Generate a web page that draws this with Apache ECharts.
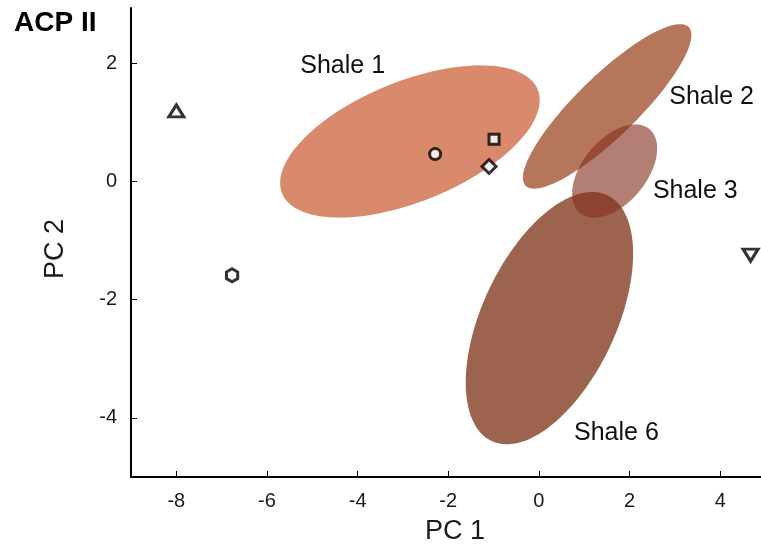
<!DOCTYPE html>
<html>
<head>
<meta charset="utf-8">
<script src="https://cdn.jsdelivr.net/npm/echarts@6/dist/echarts.min.js"></script>
<style>html,body{margin:0;padding:0;background:#fff;}#c{width:761px;height:550px;}</style>
</head>
<body>
<div id="c"></div>
<script>
// ---- data ----
const xTicks = [-8, -6, -4, -2, 0, 2, 4];
const yTicks = [-4, -2, 0, 2];
// ellipses: centre (cx, cy) and two conjugate semi-axis vectors (ax, ay), (bx, by) in data units
const ellipseNames = ['Shale 1', 'Shale 2', 'Shale 6', 'Shale 3'];
const ellipseCx = [-2.845, 1.506, 0.232, 1.671];
const ellipseCy = [0.673, 1.266, -2.314, 0.173];
const ellipseAx = [2.821, 1.799, 1.277, 0.767];
const ellipseAy = [0.876, 1.341, 2.078, 0.709];
const ellipseBx = [0.496, 0.467, 1.334, 0.540];
const ellipseBy = [-0.943, -0.370, -0.484, -0.345];
// labels
const labelTexts = ['Shale 1', 'Shale 2', 'Shale 3', 'Shale 6'];
const labelX = [-4.33, 3.81, 3.45, 1.71];
const labelY = [1.94, 1.415, -0.16, -4.26];
// sample points
const pointNames = ['triangle', 'hexagon', 'circle', 'square', 'diamond', 'down-triangle'];
const pointX = [-8.0, -6.77, -2.29, -0.99, -1.10, 4.67];
const pointY = [1.19, -1.59, 0.46, 0.71, 0.25, -1.25];

// ---- styles ----
const ellipseColors = ['#D98A6C', '#B5765B', '#9C644F', 'rgba(133,47,29,0.62)'];
const symbols = {
  'triangle': {symbol: 'triangle', size: [15, 12], rotate: 0},
  'hexagon': {symbol: 'path://M0,-10L8.66,-5L8.66,5L0,10L-8.66,5L-8.66,-5Z', size: 13, rotate: 0},
  'circle': {symbol: 'circle', size: 11, rotate: 0},
  'square': {symbol: 'rect', size: 10, rotate: 0},
  'diamond': {symbol: 'diamond', size: 14, rotate: 0},
  'down-triangle': {symbol: 'triangle', size: [15, 12], rotate: 180}
};

const chart = echarts.init(document.getElementById('c'), null, {renderer: 'canvas'});

const ellipseData = ellipseNames.map((n, i) => ({
  name: n,
  value: [ellipseCx[i], ellipseCy[i], ellipseAx[i], ellipseAy[i], ellipseBx[i], ellipseBy[i]]
}));

function renderEllipse(params, api) {
  const cx = api.value(0), cy = api.value(1);
  const ax = api.value(2), ay = api.value(3);
  const bx = api.value(4), by = api.value(5);
  const pts = [];
  const N = 120;
  for (let k = 0; k < N; k++) {
    const t = 2 * Math.PI * k / N;
    pts.push(api.coord([cx + ax * Math.cos(t) + bx * Math.sin(t), cy + ay * Math.cos(t) + by * Math.sin(t)]));
  }
  return {
    type: 'polygon',
    shape: {points: pts},
    style: {fill: ellipseColors[params.dataIndex]}
  };
}

const textData = labelTexts.map((t, i) => ({name: t, value: [labelX[i], labelY[i]]}));

const FONT = 'Liberation Sans, Arial, sans-serif';

const pointSeries = pointNames.map((n, i) => ({
  type: 'scatter',
  name: n,
  data: [[pointX[i], pointY[i]]],
  symbol: symbols[n].symbol,
  symbolSize: symbols[n].size,
  symbolRotate: symbols[n].rotate,
  symbolKeepAspect: true,
  itemStyle: {color: '#ffffff', borderColor: '#000000', borderWidth: 3},
  z: 10,
  silent: true
}));

chart.setOption({
  animation: false,
  backgroundColor: '#ffffff',
  title: {
    text: 'ACP II', left: 9, top: 4,
    textStyle: {fontFamily: FONT, fontSize: 28, fontWeight: 'bold', color: '#000'}
  },
  grid: {left: 131, right: 0, top: 8, bottom: 73, containLabel: false},
  xAxis: {
    type: 'value', min: -9, max: 4.9,
    splitLine: {show: false},
    axisLine: {show: true, onZero: false, lineStyle: {color: '#000', width: 2}},
    axisTick: {show: true, inside: true, length: 6, customValues: xTicks, lineStyle: {color: '#000', width: 1}},
    axisLabel: {customValues: xTicks, fontSize: 20, color: '#1a1a1a', margin: 14, fontFamily: FONT},
    name: 'PC 1', nameLocation: 'middle', nameGap: 41,
    nameTextStyle: {fontSize: 27, color: '#1a1a1a', fontFamily: FONT, padding: [0, 0, 0, 18]}
  },
  yAxis: {
    type: 'value', min: -5, max: 2.93,
    splitLine: {show: false},
    axisLine: {show: true, onZero: false, lineStyle: {color: '#000', width: 2}},
    axisTick: {show: true, inside: true, length: 6, customValues: yTicks, lineStyle: {color: '#000', width: 1}},
    axisLabel: {customValues: yTicks, fontSize: 20, color: '#1a1a1a', margin: 14, fontFamily: FONT},
    name: 'PC 2', nameLocation: 'middle', nameGap: 62, nameRotate: 90,
    nameTextStyle: {fontSize: 27, color: '#1a1a1a', fontFamily: FONT, padding: [0, 13, 0, 0]}
  },
  series: [
    {
      type: 'custom',
      name: 'ellipses',
      renderItem: renderEllipse,
      data: ellipseData,
      encode: {x: 0, y: 1},
      clip: false,
      z: 2,
      silent: true
    },
    {
      type: 'custom',
      name: 'labels',
      data: textData,
      encode: {x: 0, y: 1},
      z: 5,
      silent: true,
      renderItem: function (params, api) {
        const p = api.coord([api.value(0), api.value(1)]);
        return {
          type: 'text',
          x: p[0], y: p[1],
          style: {
            text: labelTexts[params.dataIndex],
            fill: '#111',
            font: '25px ' + FONT,
            align: 'center', verticalAlign: 'middle'
          }
        };
      }
    },
    ...pointSeries
  ]
});
</script>
</body>
</html>
